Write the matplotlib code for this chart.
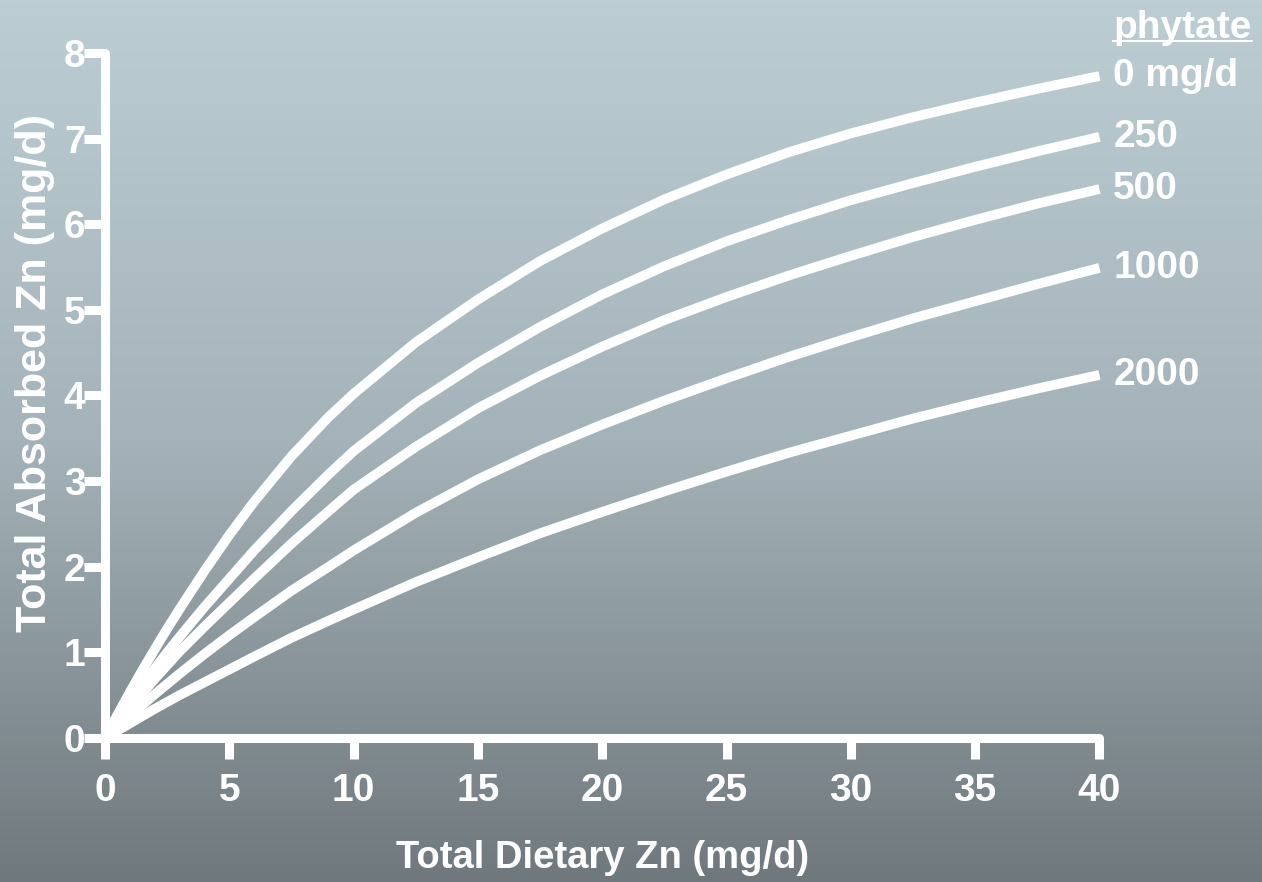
import matplotlib
matplotlib.use('Agg')

import numpy as np
import matplotlib.pyplot as plt
from matplotlib.colors import LinearSegmentedColormap
from matplotlib.lines import Line2D

plt.rcParams['font.family'] = ['Liberation Sans', 'DejaVu Sans']
plt.rcParams['font.weight'] = 'bold'

# total dietary zinc (mg/d) and absorbed zinc (mg/d) for each phytate intake
zn_diet = [0, 0.5, 1, 1.5, 2, 2.5, 3, 4, 5, 6, 7.5, 9, 10,
           12.5, 15, 17.5, 20, 22.5, 25, 27.5, 30, 32.5, 35, 37.5, 40]
absorbed_p0 = [0, .27, .535, .79, 1.035, 1.275, 1.505, 1.95, 2.37, 2.76, 3.29, 3.75, 4.02,
               4.62, 5.12, 5.57, 5.95, 6.29, 6.58, 6.84, 7.06, 7.25, 7.42, 7.58, 7.73]
absorbed_p250 = [0, .21, .42, .615, .81, 1.0, 1.18, 1.53, 1.86, 2.19, 2.65, 3.08, 3.35,
                 3.91, 4.38, 4.80, 5.18, 5.51, 5.80, 6.05, 6.28, 6.48, 6.67, 6.85, 7.02]
absorbed_p500 = [0, .175, .35, .52, .69, .85, 1.01, 1.30, 1.58, 1.86, 2.27, 2.65, 2.90,
                 3.40, 3.85, 4.23, 4.57, 4.88, 5.15, 5.40, 5.63, 5.85, 6.05, 6.24, 6.41]
absorbed_p1000 = [0, .13, .26, .385, .51, .63, .75, .98, 1.20, 1.41, 1.72, 2.00, 2.19,
                  2.63, 3.02, 3.36, 3.66, 3.94, 4.20, 4.45, 4.68, 4.90, 5.10, 5.30, 5.49]
absorbed_p2000 = [0, .085, .17, .255, .34, .42, .50, .65, .80, .95, 1.17, 1.37, 1.50,
                  1.82, 2.11, 2.39, 2.64, 2.88, 3.11, 3.33, 3.53, 3.73, 3.91, 4.08, 4.24]
curve_labels = ['0 mg/d', '250', '500', '1000', '2000']

fig = plt.figure(figsize=(12.62, 8.82), dpi=100)

# background gradient
bg = fig.add_axes([0, 0, 1, 1], zorder=0)
bg_cmap = LinearSegmentedColormap.from_list('bg', ['#bccdd4', '#a4b3b9', '#6f787d'])
bg.imshow(np.linspace(0, 1, 256).reshape(-1, 1), aspect='auto', cmap=bg_cmap,
          extent=[0, 1, 0, 1])
bg.axis('off')

ax = fig.add_axes([0.0832, 0.1633, 0.788, 0.7767], zorder=1)
ax.patch.set_alpha(0)

series = [absorbed_p0, absorbed_p250, absorbed_p500, absorbed_p1000, absorbed_p2000]
for vals, lab in zip(series, curve_labels):
    ax.plot(zn_diet, vals, color='white', lw=7, solid_capstyle='butt',
            solid_joinstyle='round', clip_on=False)
    ax.annotate(lab, xy=(zn_diet[-1], vals[-1]), xytext=(10, 0),
                textcoords='offset points', va='center', ha='left',
                color='white', fontsize=28, fontweight='bold',
                annotation_clip=False)

ph = ax.annotate('phytate', xy=(zn_diet[-1], 8.29), xytext=(10, 0),
                 textcoords='offset points', va='center', ha='left',
                 color='white', fontsize=28, fontweight='bold',
                 annotation_clip=False)

ax.set_xlim(0, 40)
ax.set_ylim(0, 8)
ax.set_xticks(range(0, 41, 5))
ax.set_yticks(range(0, 9))

for side in ['top', 'right']:
    ax.spines[side].set_visible(False)
for side in ['left', 'bottom']:
    ax.spines[side].set_color('white')
    ax.spines[side].set_linewidth(6.5)
    ax.spines[side].set_capstyle('round')

ax.tick_params(axis='both', colors='white', width=6.5, length=15,
               labelsize=28, direction='out')
ax.tick_params(axis='y', pad=-1)
ax.tick_params(axis='x', pad=10)

ax.set_xlabel('Total Dietary Zn (mg/d)', color='white', fontsize=27.5,
              fontweight='bold', va='center')
ax.xaxis.set_label_coords(0.5, -0.175)
ax.set_ylabel('Total Absorbed Zn (mg/d)', color='white', fontsize=31,
              fontweight='bold', va='center')
ax.yaxis.set_label_coords(-0.070, 0.533)

# underline under "phytate"
fig.canvas.draw()
bb = ph.get_window_extent()
W, H = fig.bbox.width, fig.bbox.height
fig.add_artist(Line2D([bb.x0 / W, bb.x1 / W], [(bb.y0 + 5) / H, (bb.y0 + 5) / H],
                      color='white', lw=1.5, transform=fig.transFigure))

fig.savefig('out.png', dpi=100)
